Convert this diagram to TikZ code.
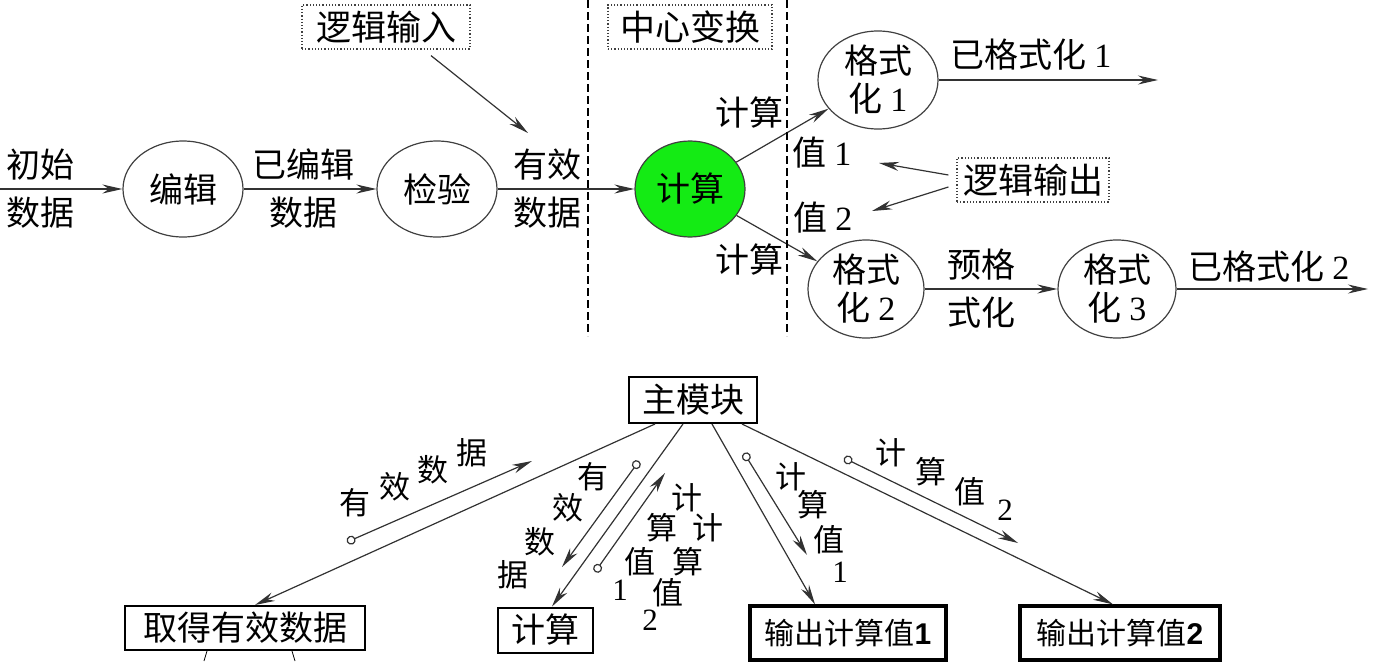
\documentclass[tikz,border=0pt]{standalone}
\usepackage{fontspec}
\newfontfamily\cjk{Noto Sans CJK SC}
\newfontfamily\arialb{Liberation Sans}
\newfontfamily\timesr{Liberation Serif}
\newcommand\dg[1]{{\timesr #1}}
\usetikzlibrary{arrows.meta,shapes.geometric,calc}
\definecolor{brightgreen}{RGB}{20,235,20}
\definecolor{lin}{RGB}{50,50,50}
\tikzset{
 ell/.style={ellipse, draw=black!75, line width=0.6pt, inner sep=0pt, font=\cjk\fontsize{17}{19}\selectfont, align=center},
 lbl/.style={font=\cjk\fontsize{17}{24}\selectfont, align=center, inner sep=0pt},
 dbox/.style={draw=black!75, densely dotted, line width=0.6pt, font=\cjk\fontsize{17.5}{20}\selectfont, inner sep=0pt},
 arr/.style={draw=lin, line width=0.6pt, -{Stealth[length=10pt,width=4.5pt]}},
 vd/.style={line width=0.6pt, dash pattern=on 4pt off 2pt},
 mbox/.style={draw, line width=1pt, font=\cjk\fontsize{17}{20}\selectfont, inner sep=0pt},
 obox/.style={draw, line width=1.6pt, font=\cjk\fontsize{15}{16}\selectfont, inner sep=0pt},
 barr/.style={draw=lin, line width=0.6pt, -{Stealth[length=10pt,width=4.5pt]}},
 carr/.style={draw=lin, line width=0.6pt, {Circle[open,length=4.5pt,width=4.5pt]}-{Stealth[length=10pt,width=4.5pt]}},
 ch/.style={font=\cjk\fontsize{15.5}{16}\selectfont, inner sep=0pt},
}
\begin{document}
\begin{tikzpicture}[x=0.5pt,y=-0.5pt]
\useasboundingbox (0,0) rectangle (1382,669);

% ---------- top: data flow ----------
\node[ell, minimum width=60pt, minimum height=48pt] (bianji) at (183,189) {编辑};
\node[ell, minimum width=60pt, minimum height=48pt] (jianyan) at (437,189) {检验};
\node[ell, minimum width=55pt, minimum height=48pt, fill=brightgreen] (jisuan) at (690,189) {计算};
\node[ell, minimum width=60pt, minimum height=49pt] (fmt1) at (878,80) {格式\\化 \dg{1}};
\node[ell, minimum width=58pt, minimum height=48pt] (fmt2) at (866,289) {格式\\化 \dg{2}};
\node[ell, minimum width=59pt, minimum height=48pt] (fmt3) at (1117,289) {格式\\化 \dg{3}};

\coordinate (in) at (0,189);
\coordinate (o1) at (1158,80);
\coordinate (o2) at (1368,289);

\draw[arr] (in) -- (bianji);
\draw[arr] (bianji) -- (jianyan);
\draw[arr] (jianyan) -- (jisuan);
\draw[arr] (jisuan) -- (fmt1);
\draw[arr] (jisuan) -- (fmt2);
\draw[arr] (fmt1) -- (o1);
\draw[arr] (fmt2) -- (fmt3);
\draw[arr] (fmt3) -- (o2);

\node[lbl] (t1) at (40,189) {初始\\数据};
\node[lbl] (t2) at (303,189) {已编辑\\数据};
\node[lbl] (t3) at (547,189) {有效\\数据};
\node[lbl] (t4) at (981,289) {预格\\式化};
\node[lbl] (t5) at (749,113) {计算};
\node[lbl] (t6) at (822,153) {值 \dg{1}};
\node[lbl] (t7) at (823,218) {值 \dg{2}};
\node[lbl] (t8) at (749,260) {计算};
\node[lbl] (t9) at (1031,55) {已格式化 \dg{1}};
\node[lbl] (t10) at (1269,267) {已格式化 \dg{2}};

\draw[vd] (588,0) -- (588,336);
\draw[vd] (787,0) -- (787,336);

\node[dbox, minimum width=84pt, minimum height=22pt] (lin) at (386,27) {逻辑输入};
\node[dbox, minimum width=82pt, minimum height=22pt] (zx) at (690,27) {中心变换};
\node[dbox, minimum width=76pt, minimum height=22pt] (lout) at (1033,180) {逻辑输出};

\coordinate (li) at (528,133);
\coordinate (lo1) at (879,163);
\coordinate (lo2) at (872,211);
\draw[arr] ([xshift=22.5pt,yshift=-3pt]lin.south) -- (li);
\draw[arr] ([xshift=-4pt,yshift=2.5pt]lout.west) -- (lo1);
\draw[arr] ([xshift=-4pt,yshift=-3.5pt]lout.west) -- (lo2);

% ---------- bottom: module structure ----------
\node[mbox, minimum width=64pt, minimum height=23pt] (main) at (693,400) {主模块};
\node[mbox, minimum width=120pt, minimum height=22pt] (get) at (245,628) {取得有效数据};
\node[mbox, minimum width=47.5pt, minimum height=22.5pt] (calc) at (545,630) {计算};
\node[obox, minimum width=98pt, minimum height=27pt] (out1) at (848,633) {输出计算值{\arialb\bfseries 1}};
\node[obox, minimum width=100pt, minimum height=27pt] (out2) at (1120,633) {输出计算值{\arialb\bfseries 2}};

\draw[barr] ([xshift=-19pt]main.south) -- ([xshift=5pt]get.north);
\draw[barr] ([xshift=-5pt]main.south) -- ([xshift=3.5pt]calc.north);
\draw[barr] ([xshift=9.5pt]main.south) -- ([xshift=-16.5pt]out1.north);
\draw[barr] ([xshift=24.5pt]main.south) -- ([xshift=-3.5pt]out2.north);

\draw[thin] ([xshift=-19pt]get.south) -- ++(-3,10);
\draw[thin] ([xshift=23.5pt]get.south) -- ++(3,10);

\coordinate (a1s) at (347,542); \coordinate (a1e) at (532,461);
\coordinate (a2s) at (639,461); \coordinate (a2e) at (562,567);
\coordinate (a3s) at (595,572); \coordinate (a3e) at (665,473);
\coordinate (a4s) at (744,453); \coordinate (a4e) at (807,555);
\coordinate (a5s) at (844,458); \coordinate (a5e) at (1018,543);
\draw[carr] (a1s) -- (a1e);
\draw[carr] (a2s) -- (a2e);
\draw[carr] (a3s) -- (a3e);
\draw[carr] (a4s) -- (a4e);
\draw[carr] (a5s) -- (a5e);

\foreach \x/\y/\t [count=\i] in {
  355/503/有, 395/487/效, 433/470/数, 472/453/据,
  593/477/有, 568/508/效, 540/542/数, 513/575/据,
  687/498/计, 662/528/算, 640/562/值, 620/590/\dg{1},
  708/528/计, 688/562/算, 668/593/值, 650/620/\dg{2},
  791/477/计, 813/505/算, 829/540/值, 840/572/\dg{1},
  891/453/计, 931/472/算, 970/492/值, 1005/510/\dg{2}}
  \node[ch] (c\i) at (\x,\y) {\t};
\end{tikzpicture}
\end{document}
